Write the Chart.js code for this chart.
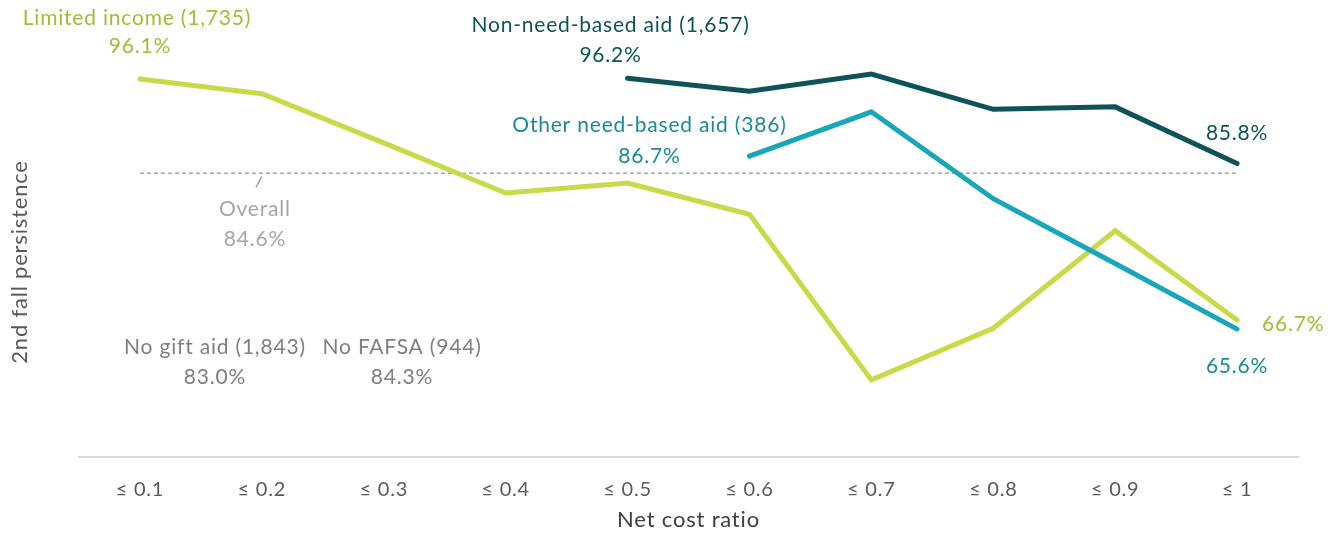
<!DOCTYPE html>
<html>
<head>
<meta charset="utf-8">
<script src="https://cdn.jsdelivr.net/npm/chart.js@4.4.1/dist/chart.umd.min.js"></script>
<style>
  html, body { margin: 0; padding: 0; background: #ffffff; }
  #wrap { width: 1333px; height: 535px; position: relative; }
</style>
</head>
<body>
<div id="wrap"><canvas id="chart" width="1333" height="535"></canvas></div>
<script>
// Net cost ratio buckets
const categories = ['≤ 0.1', '≤ 0.2', '≤ 0.3', '≤ 0.4', '≤ 0.5', '≤ 0.6', '≤ 0.7', '≤ 0.8', '≤ 0.9', '≤ 1'];

// 2nd fall persistence (%) by aid group
const limitedIncome  = [96.1, 94.3, 88.3, 82.2, 83.4, 79.6, 59.4, 65.7, 77.6, 66.7];
const nonNeedBased   = [null, null, null, null, 96.2, 94.6, 96.7, 92.4, 92.7, 85.8];
const otherNeedBased = [null, null, null, null, null, 86.7, 92.1, 81.5, 73.6, 65.6];

// Group-level rates without a curve
const overallRate = 84.6;
const noGiftAidRate = 83.0;
const noFafsaRate = 84.3;

// Group names and headcounts
const groupNames  = ['Limited income', 'Non-need-based aid', 'Other need-based aid', 'No gift aid', 'No FAFSA'];
const groupCounts = [1735, 1657, 386, 1843, 944];

const overallLine = categories.map(() => overallRate);

const COL_LIMITED = '#c9da48';
const COL_LIMITED_TXT = '#a6ba38';
const COL_NONNEED = '#0e535a';
const COL_OTHER = '#18a6ba';
const COL_OTHER_TXT = '#1a8b9a';
const COL_GREY = '#a6a6a6';
const COL_GREY_TXT = '#7f7f7f';
const FONT = 'Lato, "Open Sans", "Liberation Sans", sans-serif';

const fmtPct = v => v.toFixed(1) + '%';
const fmtName = i => groupNames[i] + ' (' + groupCounts[i].toLocaleString('en-US') + ')';
const lastIdx = arr => { for (let i = arr.length - 1; i >= 0; i--) if (arr[i] !== null) return i; return -1; };
const firstIdx = arr => arr.findIndex(v => v !== null);

// Slightly open tracking for all canvas text
const trackingPlugin = {
  id: 'tracking',
  beforeDraw(chart) { chart.ctx.letterSpacing = '0.8px'; }
};

// Labels drawn next to the curves, plus the vertical axis caption
const labelPlugin = {
  id: 'seriesLabels',
  afterDatasetsDraw(chart) {
    const { ctx, scales: { x, y }, chartArea } = chart;
    const text = (str, px, py, color, align) => {
      ctx.save();
      ctx.font = '21px ' + FONT;
      ctx.letterSpacing = '0.8px';
      ctx.fillStyle = color;
      ctx.textAlign = align || 'center';
      ctx.textBaseline = 'middle';
      ctx.fillText(str, px, py);
      ctx.restore();
    };

    // Vertical axis caption
    ctx.save();
    ctx.translate(20, 262);
    ctx.rotate(-Math.PI / 2);
    ctx.font = '22px ' + FONT;
    ctx.letterSpacing = '0.8px';
    ctx.fillStyle = '#595959';
    ctx.textAlign = 'center';
    ctx.textBaseline = 'middle';
    ctx.fillText('2nd fall persistence', 0, 0);
    ctx.restore();

    // Limited income, first point
    let i = firstIdx(limitedIncome);
    let px = x.getPixelForValue(i), py = y.getPixelForValue(limitedIncome[i]);
    text(fmtName(0), px - 3, py - 61, COL_LIMITED_TXT);
    text(fmtPct(limitedIncome[i]), px, py - 33, COL_LIMITED_TXT);
    // Limited income, last point
    i = lastIdx(limitedIncome);
    px = x.getPixelForValue(i); py = y.getPixelForValue(limitedIncome[i]);
    text(fmtPct(limitedIncome[i]), px + 25, py + 4, COL_LIMITED_TXT, 'left');

    // Non-need-based aid
    i = firstIdx(nonNeedBased);
    px = x.getPixelForValue(i); py = y.getPixelForValue(nonNeedBased[i]);
    text(fmtName(1), px - 17, py - 53, COL_NONNEED);
    text(fmtPct(nonNeedBased[i]), px - 17, py - 23, COL_NONNEED);
    i = lastIdx(nonNeedBased);
    px = x.getPixelForValue(i); py = y.getPixelForValue(nonNeedBased[i]);
    text(fmtPct(nonNeedBased[i]), px, py - 30, COL_NONNEED);

    // Other need-based aid
    i = firstIdx(otherNeedBased);
    px = x.getPixelForValue(i); py = y.getPixelForValue(otherNeedBased[i]);
    text(fmtName(2), px - 100, py - 31, COL_OTHER_TXT);
    text(fmtPct(otherNeedBased[i]), px - 100, py, COL_OTHER_TXT);
    i = lastIdx(otherNeedBased);
    px = x.getPixelForValue(i); py = y.getPixelForValue(otherNeedBased[i]);
    text(fmtPct(otherNeedBased[i]), px, py + 37, COL_OTHER_TXT);

    // Overall reference line label with leader
    px = x.getPixelForValue(1); py = y.getPixelForValue(overallRate);
    ctx.save();
    ctx.strokeStyle = COL_GREY;
    ctx.lineWidth = 1.5;
    ctx.beginPath();
    ctx.moveTo(px, py + 3);
    ctx.lineTo(px - 6, py + 14);
    ctx.stroke();
    ctx.restore();
    text('Overall', px - 7, py + 36, COL_GREY);
    text(fmtPct(overallRate), px - 7, py + 66, COL_GREY);

    // Groups shown as text only
    const baseY = chartArea.bottom;
    px = x.getPixelForValue(0.615);
    text(fmtName(3), px, baseY - 110, COL_GREY_TXT);
    text(fmtPct(noGiftAidRate), px, baseY - 80, COL_GREY_TXT);
    px = x.getPixelForValue(2.15);
    text(fmtName(4), px, baseY - 110, COL_GREY_TXT);
    text(fmtPct(noFafsaRate), px, baseY - 80, COL_GREY_TXT);
  }
};

const lineStyle = (color) => ({
  borderColor: color,
  backgroundColor: color,
  borderWidth: 5,
  pointRadius: 0,
  pointHoverRadius: 0,
  tension: 0,
  fill: false,
  borderCapStyle: 'round',
  borderJoinStyle: 'miter',
  spanGaps: false
});

new Chart(document.getElementById('chart'), {
  type: 'line',
  data: {
    labels: categories,
    datasets: [
      Object.assign({ label: groupNames[2], data: otherNeedBased }, lineStyle(COL_OTHER)),
      Object.assign({ label: groupNames[0], data: limitedIncome }, lineStyle(COL_LIMITED)),
      Object.assign({ label: groupNames[1], data: nonNeedBased }, lineStyle(COL_NONNEED)),
      {
        label: 'Overall',
        data: overallLine,
        borderColor: COL_GREY,
        borderWidth: 1.5,
        borderDash: [4, 3],
        pointRadius: 0,
        pointHoverRadius: 0,
        tension: 0,
        fill: false
      }
    ]
  },
  options: {
    responsive: false,
    animation: false,
    devicePixelRatio: 1,
    layout: { padding: { top: 47, right: 35, bottom: 0, left: 0 } },
    plugins: {
      legend: { display: false },
      tooltip: { enabled: false }
    },
    scales: {
      x: {
        offset: true,
        grid: { display: false, drawTicks: false },
        border: { display: true, color: '#d9d9d9', width: 2 },
        ticks: {
          color: '#595959',
          font: { family: FONT, size: 20 },
          padding: 21,
          maxRotation: 0,
          autoSkip: false
        },
        title: {
          display: true,
          text: 'Net cost ratio',
          color: '#404040',
          font: { family: FONT, size: 22 },
          padding: { top: 4, bottom: 2 }
        },
        afterFit(scale) { scale.height = 78; }
      },
      y: {
        min: 50,
        max: 100,
        grid: { display: false, drawTicks: false },
        border: { display: false },
        ticks: { display: false },
        title: { display: false },
        afterFit(scale) { scale.width = 79; }
      }
    }
  },
  plugins: [trackingPlugin, labelPlugin]
});
</script>
</body>
</html>
